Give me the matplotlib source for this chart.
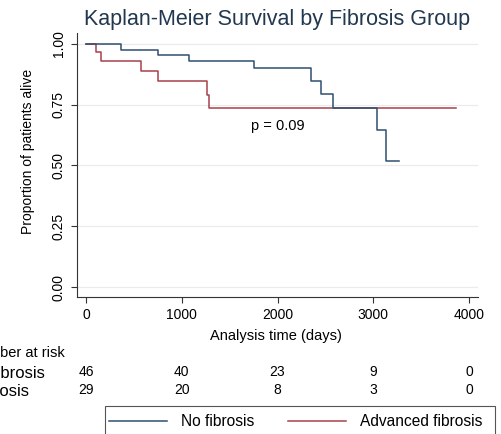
import matplotlib
matplotlib.use("Agg")
import matplotlib.pyplot as plt
from matplotlib.patches import Rectangle

plt.rcParams['font.family'] = ['Liberation Sans', 'DejaVu Sans']

# ── Data ──────────────────────────────────────────────────────────────────────
groups = ["No fibrosis", "Advanced fibrosis"]

nofib_time = [0, 362, 755, 1079, 1754, 2349, 2450, 2582, 3041, 3138, 3267]
nofib_surv = [1.0, 0.977, 0.953, 0.930, 0.900, 0.848, 0.796, 0.738, 0.646, 0.519, 0.519]

advfib_time = [0, 104, 153, 574, 755, 1260, 1285, 3860]
advfib_surv = [1.0, 0.966, 0.931, 0.890, 0.848, 0.790, 0.735, 0.735]

risk_times = [0, 1000, 2000, 3000, 4000]
risk_nofib = [46, 40, 23, 9, 0]
risk_advfib = [29, 20, 8, 3, 0]

p_text = "p = 0.09"

BLUE = "#2f4f70"
RED = "#a8414a"
W, H = 501, 434

fig = plt.figure(figsize=(W / 100, H / 100), dpi=100)
# axes box in pixel terms: left 77, right 478, top 33, bottom 297
ax = fig.add_axes([77 / W, 1 - 297 / H, 401 / W, 264 / H])

l_adv, = ax.step(advfib_time, advfib_surv, where="post", color=RED, lw=1.1)
l_no, = ax.step(nofib_time, nofib_surv, where="post", color=BLUE, lw=1.1)

ax.set_xlim(-94, 4094)
ax.set_ylim(-0.041, 1.045)
ax.set_xticks(risk_times)
ax.set_yticks([0, 0.25, 0.5, 0.75, 1.0])
ax.set_yticklabels(["0.00", "0.25", "0.50", "0.75", "1.00"], rotation=90, va="center")
ax.tick_params(labelsize=10, length=4, width=0.8, color="#333", pad=4)
ax.grid(axis="y", color="#ebebeb", lw=0.9)
ax.set_axisbelow(True)
for s in ["top", "right"]:
    ax.spines[s].set_visible(False)
for s in ["left", "bottom"]:
    ax.spines[s].set_color("#333")
    ax.spines[s].set_linewidth(0.8)

ax.set_ylabel("Proportion of patients alive", fontsize=10)
ax.yaxis.set_label_coords(-0.105, 0.55)
ax.set_xlabel("Analysis time (days)", fontsize=10.5)
ax.xaxis.set_label_coords(0.496, -0.12)

ax.text(2000, 0.663, p_text, ha="center", va="center", fontsize=10.5)

fig.text(0.553, 1 - 20 / H, "Kaplan-Meier Survival by Fibrosis Group",
         ha="center", va="center", fontsize=15.5, color="#22384f")

# ── Number at risk table (left labels cropped like the reference) ────────────
trans = ax.get_xaxis_transform()
row_y = [(297 - 372) / 264, (297 - 390) / 264]
for t, a, b in zip(risk_times, risk_nofib, risk_advfib):
    ax.text(t, row_y[0], str(a), transform=trans, ha="center", va="center",
            fontsize=10, clip_on=False)
    ax.text(t, row_y[1], str(b), transform=trans, ha="center", va="center",
            fontsize=10, clip_on=False)
fig.text(65 / W, 1 - 353 / H, "Number at risk", ha="right", va="center", fontsize=10.5)
fig.text(45 / W, 1 - 374 / H, groups[0], ha="right", va="center", fontsize=12)
fig.text(29 / W, 1 - 392 / H, groups[1], ha="right", va="center", fontsize=12)

# ── Legend (bottom of the box cropped, as in the reference) ──────────────────
leg = fig.legend([l_no, l_adv], groups, loc="center left",
                 bbox_to_anchor=(109 / W, 1 - 422 / H), ncol=2, fontsize=11.2,
                 frameon=False, borderaxespad=0, borderpad=0, handlelength=3.7,
                 handletextpad=0.9, columnspacing=2.2)
fig.add_artist(Rectangle((105 / W, -0.05), 390 / W, 0.05 + 1 - 406 / H,
                         transform=fig.transFigure, fill=False,
                         edgecolor="#555", lw=0.8))

fig.savefig("out.png", dpi=100)
